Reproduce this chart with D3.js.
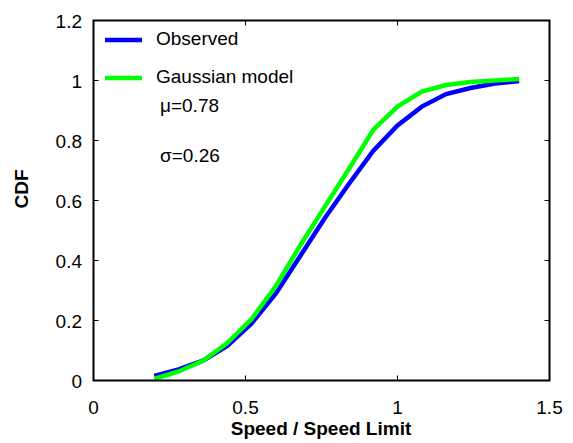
<!DOCTYPE html>
<html><head><meta charset="utf-8">
<script src="https://cdn.jsdelivr.net/npm/d3@7"></script>
<style>body{margin:0;background:#fff}svg{display:block}text{font-family:"Liberation Sans",Arial,sans-serif}</style>
</head><body><svg id="c" width="573" height="443"></svg>
<script>
const speedRatio = [0.2,0.28,0.36,0.44,0.52,0.6,0.68,0.76,0.84,0.92,1.0,1.08,1.16,1.24,1.32,1.4];
const observed = [0.015,0.037,0.066,0.115,0.19,0.29,0.415,0.54,0.655,0.765,0.85,0.913,0.955,0.975,0.99,0.998];
const gaussian = [0.005,0.03,0.066,0.125,0.205,0.315,0.45,0.578,0.705,0.835,0.913,0.963,0.985,0.995,1.0,1.005];
const xTicks = [0,0.5,1,1.5];
const yTicks = [0,0.2,0.4,0.6,0.8,1,1.2];
const seriesNames = ["Observed","Gaussian model"];
const seriesColors = ["#0000ff","#00ff00"];
const annotations = ["\u03bc=0.78","\u03c3=0.26"];

const svg = d3.select("#c");
const L=93.5, R=549.5, T=20.5, B=380.5;
const x = d3.scaleLinear().domain([0,1.5]).range([L,R]);
const y = d3.scaleLinear().domain([0,1.2]).range([B,T]);
const FS = 19;

const tl = 5;
const g = svg.append("g");
xTicks.forEach(v=>{
  g.append("line").attr("x1",x(v)).attr("x2",x(v)).attr("y1",B).attr("y2",B-tl).attr("stroke","#000").attr("stroke-width",1);
  g.append("line").attr("x1",x(v)).attr("x2",x(v)).attr("y1",T).attr("y2",T+tl).attr("stroke","#000").attr("stroke-width",1);
  g.append("text").attr("x",x(v)).attr("y",414).attr("text-anchor","middle").attr("font-size",FS).text(d3.format("~g")(v));
});
yTicks.forEach(v=>{
  g.append("line").attr("x1",L).attr("x2",L+tl).attr("y1",y(v)).attr("y2",y(v)).attr("stroke","#000").attr("stroke-width",1);
  g.append("line").attr("x1",R).attr("x2",R-tl).attr("y1",y(v)).attr("y2",y(v)).attr("stroke","#000").attr("stroke-width",1);
  g.append("text").attr("x",82).attr("y",y(v)+7.5).attr("text-anchor","end").attr("font-size",FS).text(d3.format("~g")(v));
});

const line = d3.line().x((d,i)=>x(speedRatio[i])).y(d=>y(d));
[observed,gaussian].forEach((s,k)=>{
  svg.append("path").attr("d",line(s)).attr("fill","none").attr("stroke",seriesColors[k]).attr("stroke-width",4.5).attr("stroke-linejoin","miter");
});

svg.append("rect").attr("x",L).attr("y",T).attr("width",R-L).attr("height",B-T).attr("fill","none").attr("stroke","#000").attr("stroke-width",2);

seriesNames.forEach((n,k)=>{
  const yy = 40 + k*38;
  svg.append("line").attr("x1",105).attr("x2",142).attr("y1",yy).attr("y2",yy).attr("stroke",seriesColors[k]).attr("stroke-width",4.5);
  svg.append("text").attr("x",156).attr("y",yy+5).attr("font-size",FS).text(n);
});
annotations.forEach((t,k)=>{
  svg.append("text").attr("x",160).attr("y",112+k*50).attr("font-size",FS).text(t);
});

svg.append("text").attr("x",321).attr("y",435).attr("text-anchor","middle").attr("font-size",FS).attr("font-weight","bold").text("Speed / Speed Limit");
svg.append("text").attr("transform","translate(28,189) rotate(-90)").attr("text-anchor","middle").attr("font-size",FS).attr("font-weight","bold").text("CDF");
</script></body></html>
